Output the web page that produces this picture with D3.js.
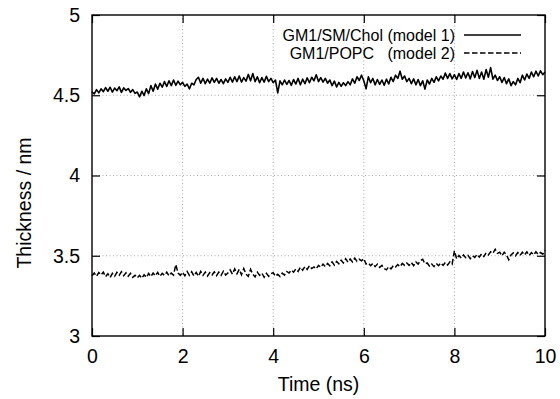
<!DOCTYPE html>
<html>
<head>
<meta charset="utf-8">
<script src="https://cdn.jsdelivr.net/npm/d3@7"></script>
<style>
  html, body { margin: 0; padding: 0; background: #fff; }
  svg { display: block; }
  text { font-family: "Liberation Sans", Arial, Helvetica, sans-serif; fill: #000; }
</style>
</head>
<body>
<svg id="chart" width="560" height="399"></svg>
<script>
// ---- Data ----
const timeStep = 0.05; // ns between samples
const xTicks = [0, 2, 4, 6, 8, 10];
const yTicks = [3, 3.5, 4, 4.5, 5];
const seriesNames = ["GM1/SM/Chol (model 1)", "GM1/POPC   (model 2)"];

const model1 = [
  4.522, 4.508, 4.535, 4.515, 4.540, 4.522, 4.548, 4.525, 4.550, 4.520, 4.545, 4.528, 4.552, 4.518, 4.546, 4.530, 4.542, 4.518, 4.535, 4.512,
  4.520, 4.490, 4.525, 4.498, 4.540, 4.510, 4.560, 4.525, 4.570, 4.538, 4.575, 4.550, 4.585, 4.555, 4.590, 4.560, 4.595, 4.562, 4.588, 4.565,
  4.580, 4.555, 4.570, 4.540, 4.575, 4.565, 4.598, 4.612, 4.575, 4.605, 4.572, 4.600, 4.575, 4.608, 4.580, 4.605, 4.575, 4.598, 4.572, 4.602,
  4.580, 4.612, 4.582, 4.615, 4.585, 4.620, 4.582, 4.610, 4.588, 4.630, 4.590, 4.635, 4.585, 4.615, 4.578, 4.610, 4.582, 4.618, 4.585, 4.605,
  4.578, 4.595, 4.515, 4.590, 4.565, 4.595, 4.568, 4.592, 4.562, 4.598, 4.570, 4.605, 4.565, 4.600, 4.572, 4.608, 4.578, 4.612, 4.590, 4.628,
  4.585, 4.610, 4.582, 4.605, 4.575, 4.595, 4.560, 4.588, 4.552, 4.580, 4.555, 4.578, 4.560, 4.585, 4.565, 4.602, 4.575, 4.615, 4.592, 4.625,
  4.590, 4.540, 4.615, 4.578, 4.605, 4.565, 4.598, 4.568, 4.595, 4.562, 4.600, 4.570, 4.612, 4.585, 4.625, 4.605, 4.650, 4.600, 4.620, 4.585,
  4.605, 4.572, 4.602, 4.565, 4.598, 4.560, 4.590, 4.538, 4.595, 4.570, 4.605, 4.580, 4.615, 4.590, 4.620, 4.600, 4.638, 4.605, 4.635, 4.602,
  4.628, 4.598, 4.635, 4.605, 4.645, 4.608, 4.640, 4.602, 4.648, 4.610, 4.655, 4.605, 4.645, 4.600, 4.660, 4.612, 4.672, 4.600, 4.625, 4.592,
  4.615, 4.580, 4.610, 4.572, 4.602, 4.560, 4.585, 4.565, 4.605, 4.578, 4.625, 4.595, 4.632, 4.605, 4.645, 4.615, 4.650, 4.620, 4.652, 4.628,
  4.645
];

const model2 = [
  3.375, 3.392, 3.372, 3.395, 3.380, 3.398, 3.370, 3.388, 3.365, 3.390, 3.372, 3.396, 3.378, 3.400, 3.376, 3.394, 3.372, 3.390, 3.365, 3.378,
  3.362, 3.378, 3.360, 3.382, 3.365, 3.390, 3.370, 3.392, 3.375, 3.396, 3.372, 3.390, 3.378, 3.398, 3.375, 3.392, 3.380, 3.445, 3.392, 3.378,
  3.398, 3.375, 3.402, 3.378, 3.400, 3.374, 3.396, 3.372, 3.402, 3.378, 3.398, 3.374, 3.395, 3.380, 3.400, 3.376, 3.398, 3.378, 3.404, 3.380,
  3.392, 3.412, 3.385, 3.418, 3.388, 3.415, 3.382, 3.420, 3.385, 3.372, 3.415, 3.385, 3.368, 3.398, 3.378, 3.392, 3.366, 3.390, 3.372, 3.388,
  3.395, 3.372, 3.385, 3.370, 3.392, 3.380, 3.402, 3.392, 3.410, 3.398, 3.418, 3.402, 3.428, 3.410, 3.432, 3.415, 3.438, 3.420, 3.430, 3.418,
  3.440, 3.428, 3.448, 3.432, 3.452, 3.438, 3.462, 3.442, 3.465, 3.450, 3.472, 3.455, 3.482, 3.460, 3.480, 3.462, 3.485, 3.465, 3.478, 3.468,
  3.482, 3.448, 3.455, 3.438, 3.452, 3.432, 3.448, 3.428, 3.440, 3.420, 3.412, 3.432, 3.418, 3.438, 3.430, 3.445, 3.432, 3.452, 3.440, 3.455,
  3.440, 3.458, 3.438, 3.462, 3.448, 3.470, 3.478, 3.450, 3.455, 3.435, 3.448, 3.432, 3.452, 3.438, 3.455, 3.440, 3.458, 3.442, 3.462, 3.448,
  3.530, 3.480, 3.502, 3.485, 3.505, 3.488, 3.502, 3.482, 3.500, 3.490, 3.508, 3.492, 3.512, 3.495, 3.518, 3.505, 3.525, 3.515, 3.540, 3.515,
  3.522, 3.500, 3.522, 3.505, 3.475, 3.505, 3.518, 3.500, 3.520, 3.502, 3.522, 3.505, 3.525, 3.502, 3.520, 3.505, 3.525, 3.508, 3.520, 3.510,
  3.535
];

// ---- Layout ----
const svg = d3.select("#chart");
const margin = { left: 92, top: 15, right: 560 - 545, bottom: 399 - 336 };
const W = 560 - margin.left - margin.right;
const H = 399 - margin.top - margin.bottom;
const fontSize = 19.5;

const x = d3.scaleLinear().domain([0, 10]).range([0, W]);
const y = d3.scaleLinear().domain([3, 5]).range([H, 0]);

const g = svg.append("g").attr("transform", `translate(${margin.left},${margin.top})`);

// gridlines
g.append("g").selectAll("line.vg").data(xTicks.slice(1, -1)).join("line")
  .attr("x1", d => x(d)).attr("x2", d => x(d)).attr("y1", 0).attr("y2", H)
  .attr("stroke", "#aaa").attr("stroke-width", 1).attr("stroke-dasharray", "1,2.5");
g.append("g").selectAll("line.hg").data(yTicks.slice(1, -1)).join("line")
  .attr("x1", 0).attr("x2", W).attr("y1", d => y(d)).attr("y2", d => y(d))
  .attr("stroke", "#aaa").attr("stroke-width", 1).attr("stroke-dasharray", "1,2.5");

// axes with inward ticks
const tickLen = 8;
const axB = g.append("g").attr("transform", `translate(0,${H})`)
  .call(d3.axisBottom(x).tickValues(xTicks).tickSize(-tickLen).tickPadding(tickLen + 10).tickFormat(d3.format("d")));
const axL = g.append("g")
  .call(d3.axisLeft(y).tickValues(yTicks).tickSize(-tickLen).tickPadding(tickLen + 12).tickFormat(d => String(d)));
const axT = g.append("g")
  .call(d3.axisTop(x).tickValues(xTicks).tickSize(-tickLen).tickFormat(""));
const axR = g.append("g").attr("transform", `translate(${W},0)`)
  .call(d3.axisRight(y).tickValues(yTicks).tickSize(-tickLen).tickFormat(""));

[axB, axL, axT, axR].forEach(a => {
  a.select(".domain").remove();
  a.selectAll(".tick line").attr("stroke", "#000").attr("stroke-width", 1.2);
  a.selectAll("text").style("font-size", fontSize + "px").attr("fill", "#000");
});
axB.selectAll("text").attr("dy", "0.71em").attr("y", 13);
axL.selectAll("text").attr("x", -12);

// data lines
const line = d3.line().x((d, i) => x(i * timeStep)).y(d => y(d));
g.append("path").datum(model1).attr("d", line)
  .attr("fill", "none").attr("stroke", "#000").attr("stroke-width", 1.6).attr("stroke-linejoin", "round");
g.append("path").datum(model2).attr("d", line)
  .attr("fill", "none").attr("stroke", "#000").attr("stroke-width", 1.5)
  .attr("stroke-dasharray", "5.5,2.5");

// frame
g.append("rect").attr("x", 0).attr("y", 0).attr("width", W).attr("height", H)
  .attr("fill", "none").attr("stroke", "#000").attr("stroke-width", 1.4);

// legend
const legend = svg.append("g");
const legY = [35, 53];
const dashes = [null, "5.5,2.5"];
seriesNames.forEach((name, i) => {
  legend.append("text").attr("x", 455).attr("y", legY[i]).attr("dy", "0.35em")
    .attr("text-anchor", "end").style("font-size", "16px").style("white-space", "pre")
    .attr("xml:space", "preserve").text(name);
  legend.append("line").attr("x1", 464).attr("x2", 521).attr("y1", legY[i]).attr("y2", legY[i])
    .attr("stroke", "#000").attr("stroke-width", 1.6)
    .attr("stroke-dasharray", dashes[i]);
});

// axis titles
svg.append("text").attr("x", 318.5).attr("y", 391).attr("text-anchor", "middle")
  .style("font-size", fontSize + "px").text("Time (ns)");
svg.append("text").attr("transform", "translate(31,203) rotate(-90)").attr("text-anchor", "middle")
  .style("font-size", fontSize + "px").text("Thickness / nm");
</script>
</body>
</html>
